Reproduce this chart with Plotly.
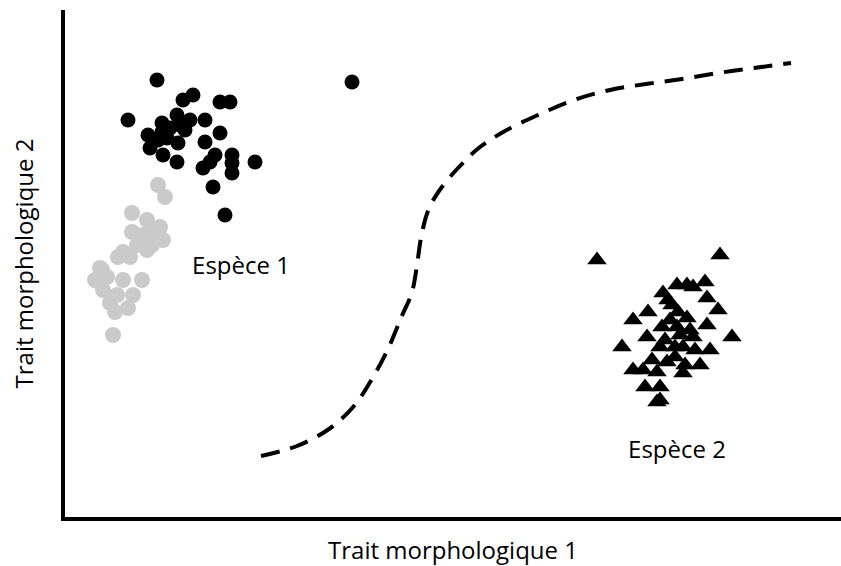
import plotly.graph_objects as go

# Data (pixel-like units: x to the right, y downward)
black_x = [157, 183, 193, 220, 230, 128, 177, 190, 205, 162, 180, 148, 162, 167, 178, 205, 220,
           150, 163, 177, 215, 232, 210, 203, 232, 232, 255, 213, 225, 352, 170, 185, 158]
black_y = [80, 100, 95, 102, 102, 120, 115, 120, 120, 123, 125, 135, 132, 138, 143, 142, 133,
           148, 155, 162, 155, 155, 162, 168, 163, 173, 162, 187, 215, 82, 128, 130, 140]

gray_x = [158, 165, 132, 147, 160, 132, 143, 163, 152, 123, 130, 118, 100, 95, 107, 123, 142,
          103, 117, 133, 110, 128, 115, 113, 102, 147, 137, 155]
gray_y = [185, 197, 213, 220, 227, 232, 235, 240, 245, 252, 257, 257, 268, 280, 277, 280, 280,
          290, 295, 295, 303, 308, 312, 335, 270, 250, 245, 230]

tri_x = [597, 720, 677, 687, 693, 705, 663, 668, 707, 648, 678, 718, 633, 670, 687, 662, 677,
         707, 647, 693, 732, 622, 660, 675, 683, 710, 667, 685, 700, 633, 643, 657, 683, 645,
         660, 660, 657, 672, 690, 680, 665, 675, 695, 652]
tri_y = [260, 255, 285, 285, 287, 282, 293, 300, 298, 312, 312, 310, 320, 320, 318, 327, 327,
         325, 337, 337, 337, 347, 347, 347, 347, 350, 362, 365, 365, 370, 370, 372, 373, 387,
         387, 400, 402, 305, 330, 335, 340, 357, 350, 360]

curve_x = [261, 297, 329, 354, 372, 388, 401, 412, 417, 421, 428, 439, 459, 480, 505, 538,
           574, 610, 646, 682, 718, 754, 791]
curve_y = [456, 446, 429, 406, 379, 349, 318, 292, 265, 238, 211, 191, 167, 147, 131, 115,
           100, 90, 84, 79, 73, 68, 63]

labels = ["Espèce 1", "Espèce 2"]
label_x = [241, 677]
label_y = [268, 452]

FONT = "Open Sans, Liberation Sans, sans-serif"

fig = go.Figure()
fig.add_trace(go.Scatter(x=curve_x, y=curve_y, mode="lines", line_shape="spline",
                         line=dict(color="black", width=4, dash="19px,11px"),
                         hoverinfo="skip", showlegend=False))
fig.add_trace(go.Scatter(x=gray_x, y=gray_y, mode="markers",
                         marker=dict(color="#cacaca", size=16, line=dict(width=0)),
                         showlegend=False))
fig.add_trace(go.Scatter(x=black_x, y=black_y, mode="markers",
                         marker=dict(color="black", size=15, line=dict(width=0)),
                         showlegend=False))
fig.add_trace(go.Scatter(x=tri_x, y=tri_y, mode="markers",
                         marker=dict(color="black", size=17, symbol="triangle-up",
                                     line=dict(width=0)),
                         showlegend=False))
fig.add_trace(go.Scatter(x=label_x, y=label_y, mode="text", text=labels,
                         textfont=dict(family=FONT, size=24, color="black"),
                         textposition="middle center", showlegend=False))

fig.update_layout(
    width=841, height=566,
    margin=dict(l=65, r=0, t=10, b=49),
    paper_bgcolor="white", plot_bgcolor="white",
    xaxis=dict(range=[65, 841], showgrid=False, zeroline=False, showticklabels=False,
               ticks="", showline=True, linecolor="black", linewidth=4,
               title=dict(text="Trait morphologique 1", standoff=24,
                          font=dict(family=FONT, size=24, color="black"))),
    yaxis=dict(range=[517, 10], showgrid=False, zeroline=False, showticklabels=False,
               ticks="", showline=True, linecolor="black", linewidth=4,
               title=dict(text="Trait morphologique 2", standoff=22,
                          font=dict(family=FONT, size=24, color="black"))),
)

fig.write_html("out.html", post_script="document.body.style.margin='0';",
               config={"displayModeBar": False})
